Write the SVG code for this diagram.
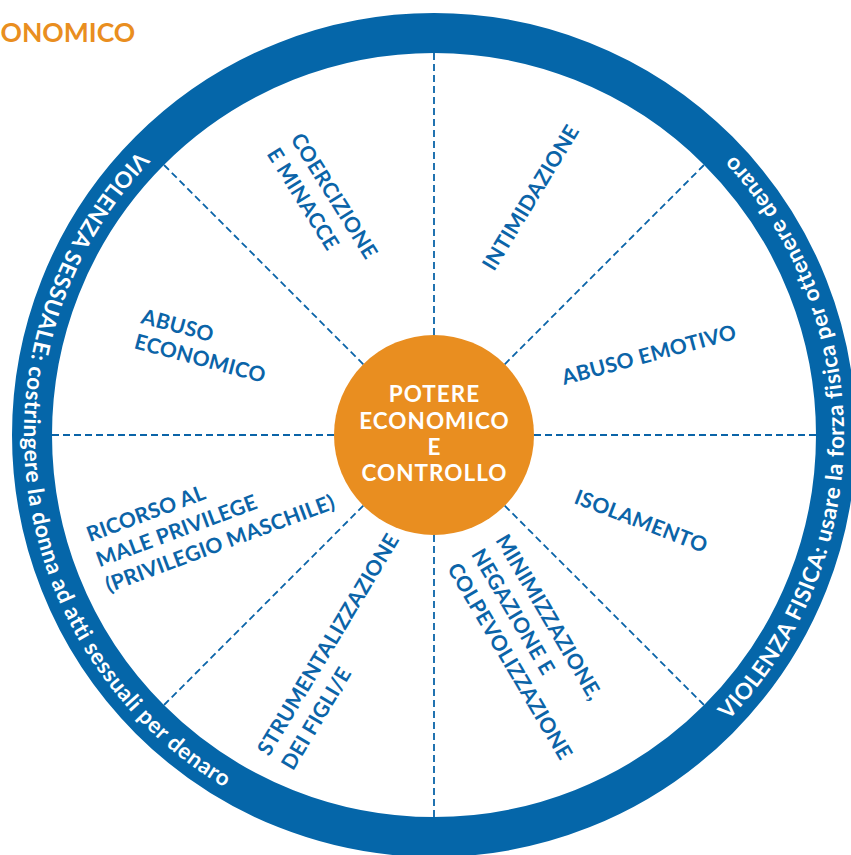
<svg xmlns="http://www.w3.org/2000/svg" width="851" height="855" viewBox="0 0 851 855">
<style>
.lbl{font-family:Lato,"Liberation Sans",sans-serif;font-weight:700;font-size:21px;letter-spacing:0.3px;fill:#0B64A8}
.ring{font-family:Lato,"Liberation Sans",sans-serif;font-weight:700;font-size:22.5px;letter-spacing:0.55px;fill:#ffffff}
.ctr{font-family:Lato,"Liberation Sans",sans-serif;font-weight:700;font-size:22.5px;letter-spacing:1px;fill:#ffffff;text-anchor:middle}
.spoke{stroke:#0B64A8;stroke-width:1.8;stroke-dasharray:7 4;fill:none}
</style>
<defs>
<path id="arcL" d="M229,79.9 A410,410 0 0 0 330.6,831.8"/>
<path id="arcR" d="M587.6,815.1 A410,410 0 0 0 594.2,57.6"/>
</defs>
<rect width="851" height="855" fill="#ffffff"/>
<text x="0.5" y="42" font-family="Lato,'Liberation Sans',sans-serif" font-weight="700" font-size="26.5" fill="#E98E20">ONOMICO</text>
<g id="wheel">
<circle cx="434" cy="435" r="402" fill="none" stroke="#0566A9" stroke-width="40"/>
</g>
<g id="connectors">
<line class="spoke" x1="434" y1="53" x2="434" y2="335"/>
<line class="spoke" x1="434" y1="535" x2="434" y2="817"/>
<line class="spoke" x1="52" y1="435" x2="334" y2="435"/>
<line class="spoke" x1="534" y1="435" x2="816" y2="435"/>
<line class="spoke" x1="164" y1="165" x2="363.3" y2="364.3"/>
<line class="spoke" x1="504.7" y1="505.7" x2="704" y2="705"/>
<line class="spoke" x1="704" y1="165" x2="504.7" y2="364.3"/>
<line class="spoke" x1="363.3" y1="505.7" x2="164" y2="705"/>
</g>
<g id="ring-left">
<text class="ring"><textPath href="#arcL" startOffset="50%" text-anchor="middle">VIOLENZA SESSUALE: costringere la donna ad atti sessuali per denaro</textPath></text>
</g>
<g id="ring-right">
<text class="ring"><textPath href="#arcR" startOffset="50%" text-anchor="middle">VIOLENZA FISICA: usare la forza fisica per ottenere denaro</textPath></text>
</g>
<g id="center">
<circle cx="434" cy="435" r="100" fill="#E98E20"/>
<text class="ctr" x="434.5" y="402">POTERE</text>
<text class="ctr" x="434.5" y="428.5">ECONOMICO</text>
<text class="ctr" x="434.5" y="455">E</text>
<text class="ctr" x="434.5" y="481">CONTROLLO</text>
</g>
<g id="coercizione">
<text class="lbl" transform="translate(290,139) rotate(58)"><tspan x="0" y="0">COERCIZIONE</tspan><tspan x="0" y="28">E MINACCE</tspan></text>
</g>
<g id="intimidazione">
<text class="lbl" transform="translate(494,272) rotate(-58.7)">INTIMIDAZIONE</text>
</g>
<g id="abuso-emotivo">
<text class="lbl" transform="translate(564,385) rotate(-15)">ABUSO EMOTIVO</text>
</g>
<g id="isolamento">
<text class="lbl" transform="translate(573,503) rotate(21)">ISOLAMENTO</text>
</g>
<g id="minimizzazione">
<text class="lbl" transform="translate(495,540) rotate(59.5)"><tspan x="0" y="0">MINIMIZZAZIONE,</tspan><tspan x="0" y="28">NEGAZIONE E</tspan><tspan x="0" y="56">COLPEVOLIZZAZIONE</tspan></text>
</g>
<g id="strumentalizzazione">
<text class="lbl" transform="translate(269,757) rotate(-59)"><tspan x="0" y="0">STRUMENTALIZZAZIONE</tspan><tspan x="0" y="28">DEI FIGLI/E</tspan></text>
</g>
<g id="ricorso">
<text class="lbl" transform="translate(90,542) rotate(-20.4)"><tspan x="0" y="0">RICORSO AL</tspan><tspan x="0" y="27">MALE PRIVILEGE</tspan><tspan x="0" y="54">(PRIVILEGIO MASCHILE)</tspan></text>
</g>
<g id="abuso-economico">
<text class="lbl" transform="translate(140,323) rotate(15)"><tspan x="0" y="0">ABUSO</tspan><tspan x="0" y="26">ECONOMICO</tspan></text>
</g>
</svg>
